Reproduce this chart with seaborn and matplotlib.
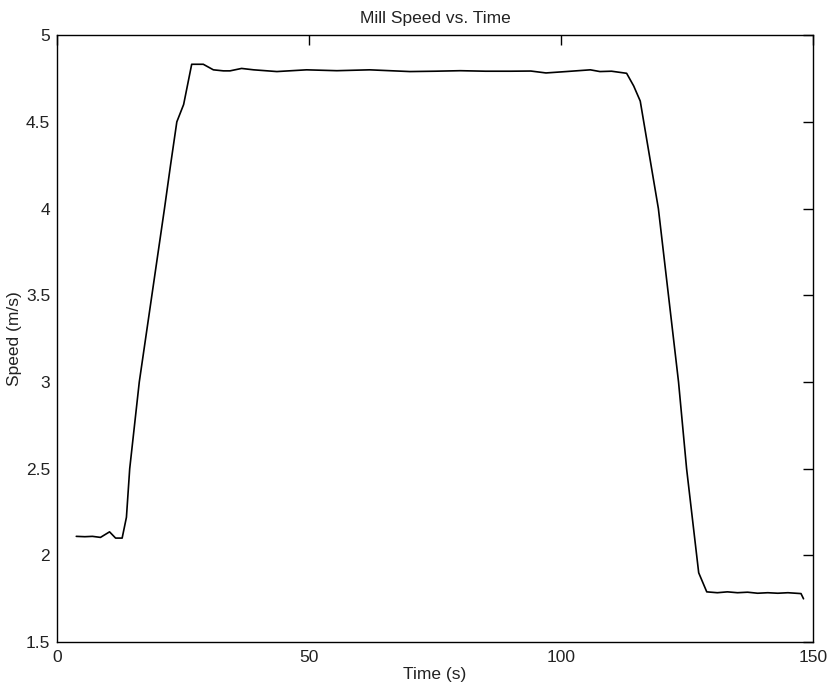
import matplotlib
matplotlib.use("Agg")
import matplotlib.pyplot as plt
import matplotlib.ticker as mticker
import pandas as pd
import seaborn as sns

# Mill speed trace
time_s = [3.8, 5.5, 7.0, 8.6, 10.4, 11.6, 12.9, 13.75, 14.4, 16.3, 19.2,
          21.3, 22.5, 23.75, 25.1, 26.7, 29.0, 31.0, 33.0, 34.3, 36.6, 39.0,
          43.6, 49.5, 55.5, 62.0, 66.0, 70.0, 75.0, 80.0, 85.0, 90.0, 94.0,
          97.0, 101.0, 105.8, 107.7, 110.0, 113.0, 114.4, 115.7, 119.3,
          121.3, 123.3, 124.9, 126.9, 127.3, 128.9, 131.0, 133.0, 135.0,
          137.0, 139.0, 141.0, 143.0, 145.0, 147.6, 148.1]
speed_ms = [2.11, 2.108, 2.11, 2.104, 2.136, 2.10, 2.10, 2.22, 2.50, 3.00,
            3.58, 4.00, 4.25, 4.50, 4.60, 4.832, 4.832, 4.80, 4.794, 4.794,
            4.808, 4.80, 4.79, 4.80, 4.795, 4.80, 4.795, 4.79, 4.792, 4.795,
            4.792, 4.792, 4.793, 4.782, 4.79, 4.80, 4.79, 4.792, 4.78, 4.707,
            4.62, 4.00, 3.50, 3.00, 2.50, 2.00, 1.90, 1.79, 1.785, 1.79,
            1.785, 1.788, 1.782, 1.785, 1.782, 1.785, 1.78, 1.75]

df = pd.DataFrame({"Time (s)": time_s, "Speed (m/s)": speed_ms})

sns.set_style("white")
plt.rcParams["font.family"] = ["Liberation Sans", "DejaVu Sans"]

fig = plt.figure(figsize=(8.28, 6.89), dpi=100)
ax = fig.add_axes([0.069, 0.068, 0.913, 0.881])

sns.lineplot(data=df, x="Time (s)", y="Speed (m/s)", ax=ax,
             color="black", linewidth=1.2)

ax.set_xlim(0, 150)
ax.set_ylim(1.5, 5)
ax.set_xticks([0, 50, 100, 150])
ax.set_yticks([1.5, 2, 2.5, 3, 3.5, 4, 4.5, 5])
ax.yaxis.set_major_formatter(mticker.FormatStrFormatter("%g"))
ax.tick_params(direction="in", length=7, width=1, top=True, right=True,
               labelsize=12.5, colors="black", labelcolor="#222222")
ax.tick_params(axis="x", pad=6)
ax.tick_params(axis="y", pad=5)
for s in ax.spines.values():
    s.set_color("black")
    s.set_linewidth(1)

ax.set_title("Mill Speed vs. Time", fontsize=12.5, pad=9, color="#222222")
ax.set_xlabel("Time (s)", fontsize=12.5, labelpad=1, color="#222222")
ax.set_ylabel("Speed (m/s)", fontsize=12.5, labelpad=3, color="#222222")

fig.savefig("out.png", dpi=100)
